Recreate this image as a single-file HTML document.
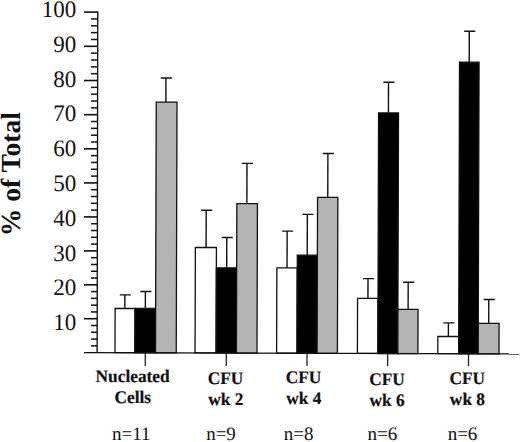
<!DOCTYPE html>
<html><head><meta charset="utf-8"><style>
html,body{margin:0;padding:0;background:#fff;}
body{width:520px;height:442px;overflow:hidden;}
svg{display:block;}
text{text-rendering:geometricPrecision;}
.yl{font-family:"Liberation Serif",serif;font-size:23.6px;fill:#111;}
.yt{font-family:"Liberation Serif",serif;font-size:27.6px;font-weight:bold;fill:#111;}
.xl{font-family:"Liberation Serif",serif;font-size:17.6px;font-weight:bold;fill:#111;stroke:#111;stroke-width:0.2px;}
.nl{font-family:"Liberation Serif",serif;font-size:19px;fill:#111;}
</style></head><body>
<svg width="520" height="442" viewBox="0 0 520 442">
<g transform="matrix(1,0,-0.003,1,1.0581,0)">
<line x1="124.68" y1="308.50" x2="124.68" y2="294.85" stroke="#111" stroke-width="1.4"/>
<line x1="119.58" y1="294.85" x2="130.68" y2="294.85" stroke="#111" stroke-width="1.4"/>
<line x1="145.22" y1="308.50" x2="145.22" y2="291.50" stroke="#111" stroke-width="1.4"/>
<line x1="140.12" y1="291.50" x2="151.22" y2="291.50" stroke="#111" stroke-width="1.4"/>
<line x1="165.13" y1="102.10" x2="165.13" y2="78.00" stroke="#111" stroke-width="1.4"/>
<line x1="160.03" y1="78.00" x2="171.13" y2="78.00" stroke="#111" stroke-width="1.4"/>
<rect x="115.00" y="308.50" width="19.90" height="44.22" fill="#ffffff" stroke="#111" stroke-width="1.3"/>
<rect x="134.90" y="308.50" width="20.60" height="44.28" fill="#000000" stroke="#111" stroke-width="1.3"/>
<rect x="155.50" y="102.10" width="20.75" height="250.74" fill="#b4b4b4" stroke="#111" stroke-width="1.3"/>
<line x1="205.77" y1="247.50" x2="205.77" y2="210.30" stroke="#111" stroke-width="1.4"/>
<line x1="200.67" y1="210.30" x2="211.77" y2="210.30" stroke="#111" stroke-width="1.4"/>
<line x1="226.45" y1="267.80" x2="226.45" y2="237.50" stroke="#111" stroke-width="1.4"/>
<line x1="221.35" y1="237.50" x2="232.45" y2="237.50" stroke="#111" stroke-width="1.4"/>
<line x1="246.43" y1="203.60" x2="246.43" y2="163.40" stroke="#111" stroke-width="1.4"/>
<line x1="241.33" y1="163.40" x2="252.43" y2="163.40" stroke="#111" stroke-width="1.4"/>
<rect x="195.05" y="247.50" width="21.05" height="105.46" fill="#ffffff" stroke="#111" stroke-width="1.3"/>
<rect x="216.10" y="267.80" width="20.30" height="85.23" fill="#000000" stroke="#111" stroke-width="1.3"/>
<rect x="236.40" y="203.60" width="20.60" height="149.49" fill="#b4b4b4" stroke="#111" stroke-width="1.3"/>
<line x1="286.79" y1="267.90" x2="286.79" y2="231.10" stroke="#111" stroke-width="1.4"/>
<line x1="281.69" y1="231.10" x2="292.79" y2="231.10" stroke="#111" stroke-width="1.4"/>
<line x1="306.94" y1="255.20" x2="306.94" y2="214.40" stroke="#111" stroke-width="1.4"/>
<line x1="301.84" y1="214.40" x2="312.94" y2="214.40" stroke="#111" stroke-width="1.4"/>
<line x1="327.30" y1="197.40" x2="327.30" y2="153.50" stroke="#111" stroke-width="1.4"/>
<line x1="322.20" y1="153.50" x2="333.30" y2="153.50" stroke="#111" stroke-width="1.4"/>
<rect x="276.60" y="267.90" width="20.40" height="85.31" fill="#ffffff" stroke="#111" stroke-width="1.3"/>
<rect x="297.00" y="255.20" width="20.10" height="98.07" fill="#000000" stroke="#111" stroke-width="1.3"/>
<rect x="317.10" y="197.40" width="20.30" height="155.93" fill="#b4b4b4" stroke="#111" stroke-width="1.3"/>
<line x1="367.78" y1="298.40" x2="367.78" y2="278.60" stroke="#111" stroke-width="1.4"/>
<line x1="362.68" y1="278.60" x2="373.78" y2="278.60" stroke="#111" stroke-width="1.4"/>
<line x1="387.69" y1="112.90" x2="387.69" y2="82.30" stroke="#111" stroke-width="1.4"/>
<line x1="382.59" y1="82.30" x2="393.69" y2="82.30" stroke="#111" stroke-width="1.4"/>
<line x1="407.99" y1="309.30" x2="407.99" y2="282.20" stroke="#111" stroke-width="1.4"/>
<line x1="402.89" y1="282.20" x2="413.99" y2="282.20" stroke="#111" stroke-width="1.4"/>
<rect x="357.40" y="298.40" width="20.45" height="55.05" fill="#ffffff" stroke="#111" stroke-width="1.3"/>
<rect x="377.85" y="112.90" width="19.95" height="240.61" fill="#000000" stroke="#111" stroke-width="1.3"/>
<rect x="397.80" y="309.30" width="20.10" height="44.27" fill="#b4b4b4" stroke="#111" stroke-width="1.3"/>
<line x1="448.31" y1="336.50" x2="448.31" y2="322.90" stroke="#111" stroke-width="1.4"/>
<line x1="443.21" y1="322.90" x2="454.31" y2="322.90" stroke="#111" stroke-width="1.4"/>
<line x1="468.34" y1="62.20" x2="468.34" y2="31.20" stroke="#111" stroke-width="1.4"/>
<line x1="463.24" y1="31.20" x2="474.34" y2="31.20" stroke="#111" stroke-width="1.4"/>
<line x1="488.64" y1="323.30" x2="488.64" y2="299.50" stroke="#111" stroke-width="1.4"/>
<line x1="483.54" y1="299.50" x2="494.64" y2="299.50" stroke="#111" stroke-width="1.4"/>
<rect x="437.80" y="336.50" width="20.85" height="17.19" fill="#ffffff" stroke="#111" stroke-width="1.3"/>
<rect x="458.65" y="62.20" width="19.55" height="291.55" fill="#000000" stroke="#111" stroke-width="1.3"/>
<rect x="478.20" y="323.30" width="20.80" height="30.51" fill="#b4b4b4" stroke="#111" stroke-width="1.3"/>
</g>
<line x1="145.30" y1="352.70" x2="145.30" y2="366" stroke="#222" stroke-width="1.3"/>
<line x1="226.30" y1="352.70" x2="226.30" y2="366" stroke="#222" stroke-width="1.3"/>
<line x1="307.00" y1="352.70" x2="307.00" y2="366" stroke="#222" stroke-width="1.3"/>
<line x1="387.60" y1="352.70" x2="387.60" y2="366" stroke="#222" stroke-width="1.3"/>
<line x1="468.50" y1="352.70" x2="468.50" y2="366" stroke="#222" stroke-width="1.3"/>
<line x1="97.75" y1="11.4" x2="97.15" y2="352.70" stroke="#111" stroke-width="1.35"/>
<line x1="84" y1="352.60" x2="519" y2="353.90" stroke="#111" stroke-width="1.45"/>
<line x1="91" y1="345.82" x2="97.16" y2="345.82" stroke="#111" stroke-width="1.5"/>
<line x1="91" y1="339.05" x2="97.17" y2="339.05" stroke="#111" stroke-width="1.5"/>
<line x1="91" y1="332.27" x2="97.19" y2="332.27" stroke="#111" stroke-width="1.5"/>
<line x1="91" y1="325.50" x2="97.20" y2="325.50" stroke="#111" stroke-width="1.5"/>
<line x1="84" y1="318.72" x2="97.21" y2="318.72" stroke="#111" stroke-width="1.6"/>
<line x1="91" y1="311.94" x2="97.22" y2="311.94" stroke="#111" stroke-width="1.5"/>
<line x1="91" y1="305.16" x2="97.23" y2="305.16" stroke="#111" stroke-width="1.5"/>
<line x1="91" y1="298.38" x2="97.25" y2="298.38" stroke="#111" stroke-width="1.5"/>
<line x1="91" y1="291.60" x2="97.26" y2="291.60" stroke="#111" stroke-width="1.5"/>
<line x1="84" y1="284.82" x2="97.27" y2="284.82" stroke="#111" stroke-width="1.6"/>
<line x1="91" y1="278.04" x2="97.28" y2="278.04" stroke="#111" stroke-width="1.5"/>
<line x1="91" y1="271.26" x2="97.29" y2="271.26" stroke="#111" stroke-width="1.5"/>
<line x1="91" y1="264.47" x2="97.31" y2="264.47" stroke="#111" stroke-width="1.5"/>
<line x1="91" y1="257.68" x2="97.32" y2="257.68" stroke="#111" stroke-width="1.5"/>
<line x1="84" y1="250.89" x2="97.33" y2="250.89" stroke="#111" stroke-width="1.6"/>
<line x1="91" y1="244.10" x2="97.34" y2="244.10" stroke="#111" stroke-width="1.5"/>
<line x1="91" y1="237.31" x2="97.35" y2="237.31" stroke="#111" stroke-width="1.5"/>
<line x1="91" y1="230.52" x2="97.37" y2="230.52" stroke="#111" stroke-width="1.5"/>
<line x1="91" y1="223.72" x2="97.38" y2="223.72" stroke="#111" stroke-width="1.5"/>
<line x1="84" y1="216.92" x2="97.39" y2="216.92" stroke="#111" stroke-width="1.6"/>
<line x1="91" y1="210.12" x2="97.40" y2="210.12" stroke="#111" stroke-width="1.5"/>
<line x1="91" y1="203.32" x2="97.41" y2="203.32" stroke="#111" stroke-width="1.5"/>
<line x1="91" y1="196.52" x2="97.43" y2="196.52" stroke="#111" stroke-width="1.5"/>
<line x1="91" y1="189.71" x2="97.44" y2="189.71" stroke="#111" stroke-width="1.5"/>
<line x1="84" y1="182.90" x2="97.45" y2="182.90" stroke="#111" stroke-width="1.6"/>
<line x1="91" y1="176.09" x2="97.46" y2="176.09" stroke="#111" stroke-width="1.5"/>
<line x1="91" y1="169.28" x2="97.47" y2="169.28" stroke="#111" stroke-width="1.5"/>
<line x1="91" y1="162.46" x2="97.49" y2="162.46" stroke="#111" stroke-width="1.5"/>
<line x1="91" y1="155.64" x2="97.50" y2="155.64" stroke="#111" stroke-width="1.5"/>
<line x1="84" y1="148.82" x2="97.51" y2="148.82" stroke="#111" stroke-width="1.6"/>
<line x1="91" y1="142.00" x2="97.52" y2="142.00" stroke="#111" stroke-width="1.5"/>
<line x1="91" y1="135.18" x2="97.53" y2="135.18" stroke="#111" stroke-width="1.5"/>
<line x1="91" y1="128.35" x2="97.55" y2="128.35" stroke="#111" stroke-width="1.5"/>
<line x1="91" y1="121.52" x2="97.56" y2="121.52" stroke="#111" stroke-width="1.5"/>
<line x1="84" y1="114.69" x2="97.57" y2="114.69" stroke="#111" stroke-width="1.6"/>
<line x1="91" y1="107.86" x2="97.58" y2="107.86" stroke="#111" stroke-width="1.5"/>
<line x1="91" y1="101.03" x2="97.59" y2="101.03" stroke="#111" stroke-width="1.5"/>
<line x1="91" y1="94.20" x2="97.61" y2="94.20" stroke="#111" stroke-width="1.5"/>
<line x1="91" y1="87.36" x2="97.62" y2="87.36" stroke="#111" stroke-width="1.5"/>
<line x1="84" y1="80.52" x2="97.63" y2="80.52" stroke="#111" stroke-width="1.6"/>
<line x1="91" y1="73.68" x2="97.64" y2="73.68" stroke="#111" stroke-width="1.5"/>
<line x1="91" y1="66.84" x2="97.65" y2="66.84" stroke="#111" stroke-width="1.5"/>
<line x1="91" y1="60.00" x2="97.67" y2="60.00" stroke="#111" stroke-width="1.5"/>
<line x1="91" y1="53.16" x2="97.68" y2="53.16" stroke="#111" stroke-width="1.5"/>
<line x1="84" y1="46.32" x2="97.69" y2="46.32" stroke="#111" stroke-width="1.6"/>
<line x1="91" y1="39.48" x2="97.70" y2="39.48" stroke="#111" stroke-width="1.5"/>
<line x1="91" y1="32.63" x2="97.71" y2="32.63" stroke="#111" stroke-width="1.5"/>
<line x1="91" y1="25.79" x2="97.73" y2="25.79" stroke="#111" stroke-width="1.5"/>
<line x1="91" y1="18.94" x2="97.74" y2="18.94" stroke="#111" stroke-width="1.5"/>
<line x1="84" y1="12.10" x2="97.75" y2="12.10" stroke="#111" stroke-width="1.6"/>
<text transform="translate(76.3,330.29) scale(0.975,1)" text-anchor="end" class="yl">10</text>
<text transform="translate(76.3,295.48) scale(0.975,1)" text-anchor="end" class="yl">20</text>
<text transform="translate(76.3,260.67) scale(0.975,1)" text-anchor="end" class="yl">30</text>
<text transform="translate(76.3,225.86) scale(0.975,1)" text-anchor="end" class="yl">40</text>
<text transform="translate(76.3,191.05) scale(0.975,1)" text-anchor="end" class="yl">50</text>
<text transform="translate(76.3,156.24) scale(0.975,1)" text-anchor="end" class="yl">60</text>
<text transform="translate(76.3,121.43) scale(0.975,1)" text-anchor="end" class="yl">70</text>
<text transform="translate(76.3,86.62) scale(0.975,1)" text-anchor="end" class="yl">80</text>
<text transform="translate(76.3,51.81) scale(0.975,1)" text-anchor="end" class="yl">90</text>
<text transform="translate(76.3,17.00) scale(0.975,1)" text-anchor="end" class="yl">100</text>
<text transform="translate(20.3,174.2) rotate(-90)" text-anchor="middle" class="yt">% of Total</text>
<text transform="translate(132.60,382.10) scale(0.985,1)" text-anchor="middle" class="xl">Nucleated</text>
<text transform="translate(132.80,403.40) scale(0.985,1)" text-anchor="middle" class="xl">Cells</text>
<text transform="translate(131.30,440.0) scale(1.0,1)" text-anchor="middle" class="nl">n=11</text>
<text transform="translate(225.45,384.30) scale(0.985,1)" text-anchor="middle" class="xl">CFU</text>
<text transform="translate(225.75,404.70) scale(0.985,1)" text-anchor="middle" class="xl">wk 2</text>
<text transform="translate(221.00,440.0) scale(1.0,1)" text-anchor="middle" class="nl">n=9</text>
<text transform="translate(303.45,383.20) scale(0.985,1)" text-anchor="middle" class="xl">CFU</text>
<text transform="translate(303.75,403.70) scale(0.985,1)" text-anchor="middle" class="xl">wk 4</text>
<text transform="translate(298.55,440.0) scale(1.0,1)" text-anchor="middle" class="nl">n=8</text>
<text transform="translate(386.95,384.60) scale(0.985,1)" text-anchor="middle" class="xl">CFU</text>
<text transform="translate(387.15,405.80) scale(0.985,1)" text-anchor="middle" class="xl">wk 6</text>
<text transform="translate(382.30,440.0) scale(1.0,1)" text-anchor="middle" class="nl">n=6</text>
<text transform="translate(467.25,384.20) scale(0.985,1)" text-anchor="middle" class="xl">CFU</text>
<text transform="translate(467.45,404.90) scale(0.985,1)" text-anchor="middle" class="xl">wk 8</text>
<text transform="translate(462.50,440.0) scale(1.0,1)" text-anchor="middle" class="nl">n=6</text>
</svg>
</body></html>
